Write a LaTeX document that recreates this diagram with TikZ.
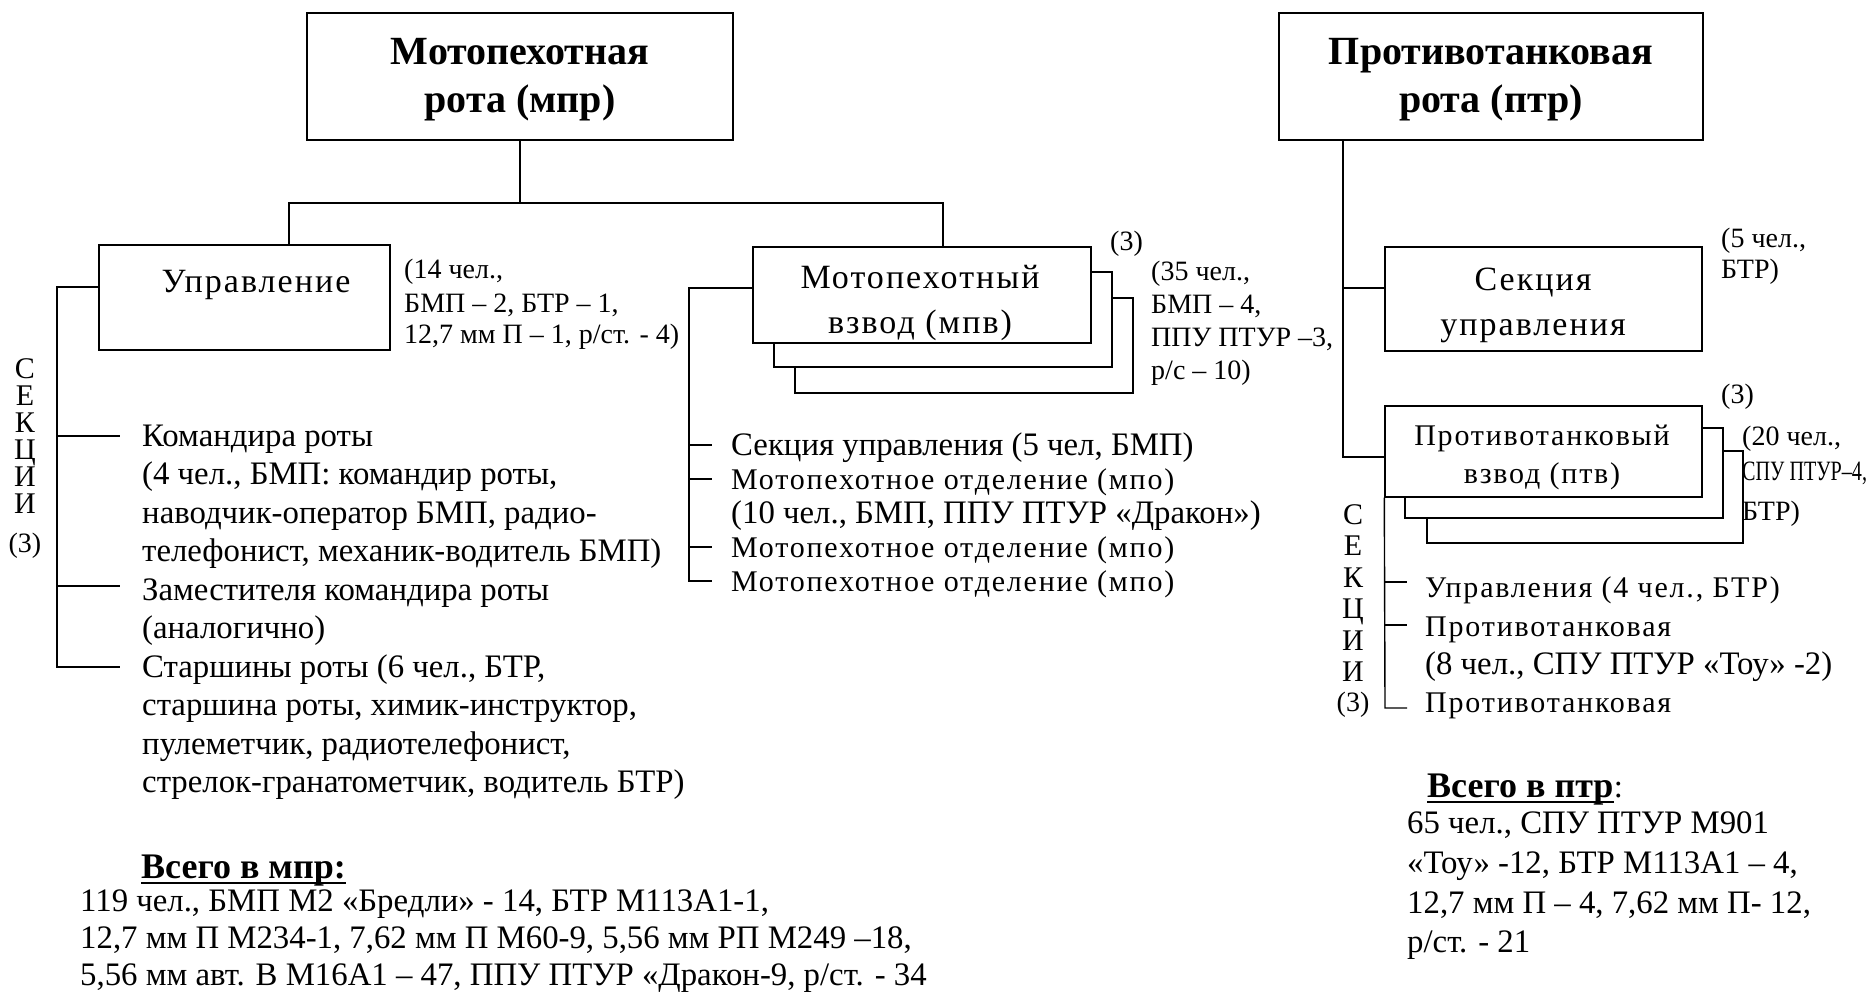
\documentclass[tikz,border=0pt]{standalone}
\usepackage{fontspec}
\usepackage{graphicx}
\setmainfont{Liberation Serif}
\newfontfamily\wserif[LetterSpace=6]{Liberation Serif}
\usetikzlibrary{calc}
\newcommand\fntTitle{\fontsize{40pt}{48pt}\selectfont\bfseries}
\newcommand\fntBoxT{\wserif\fontsize{34pt}{40pt}\selectfont}
\newcommand\fntBoxS{\wserif\fontsize{30pt}{38pt}\selectfont}
\newcommand\fntNote{\fontsize{28pt}{32pt}\selectfont}
\newcommand\fntBody{\fontsize{32.8pt}{38pt}\selectfont}
\newcommand\fntWide{\wserif\fontsize{30pt}{38pt}\selectfont}
\newcommand\fntTot{\fontsize{36pt}{40pt}\selectfont\bfseries}
\tikzset{
  box/.style={draw, line width=1.4pt, fill=white, inner sep=0pt},
  topbox/.style={draw, line width=2.4pt, fill=white, inner sep=0pt},
  conn/.style={line width=1.4pt},
  tl/.style={inner sep=0pt, anchor=base west},
  tc/.style={inner sep=0pt, anchor=base},
}
\begin{document}
\begin{tikzpicture}[x=1pt,y=-1pt]
\fill[white] (0,0) rectangle (1870,995);
\useasboundingbox (0,0) rectangle (1870,995);

% ---------- top boxes
\node[topbox, minimum width=426pt, minimum height=127pt] (mpr) at (520,76.5) {};
\node[tc, font=\fntTitle] (mprA) at (520,65) {Мотопехотная};
\node[tc, font=\fntTitle] (mprB) at (520,113) {рота (мпр)};

\node[topbox, minimum width=424pt, minimum height=127pt] (ptr) at (1491,76.5) {};
\node[tc, font=\fntTitle] (ptrA) at (1491,65) {Противотанковая};
\node[tc, font=\fntTitle] (ptrB) at (1491,113) {рота (птр)};

% ---------- Управление
\node[box, minimum width=291pt, minimum height=105pt] (upr) at (244.5,297.5) {};
\node[tc, font=\fntBoxT] (uprT) at (256,292) {Управление};
\node[tl, font=\fntNote] (uprN1) at (404,278) {(14 чел.,};
\node[tl, font=\fntNote] (uprN2) at (404,312) {БМП – 2, БТР – 1,};
\node[tl, font=\fntNote] (uprN3) at (404,343) {12,7 мм П – 1, р/ст. - 4)};

% ---------- Мотопехотный взвод (stack)
\node[box, minimum width=338pt, minimum height=95pt] (mpvC) at (964,345.5) {};
\node[box, minimum width=338pt, minimum height=95pt] (mpvB) at (943,319.5) {};
\node[box, minimum width=338pt, minimum height=96pt] (mpv) at (922,295) {};
\node[tc, font=\fntBoxT] (mpvA) at (920,288) {Мотопехотный};
\node[tc, font=\fntBoxT] (mpvT) at (920,333) {взвод (мпв)};
\node[tl, font=\fntNote] (mpvN0) at (1110,250) {(3)};
\node[tl, font=\fntNote] (mpvN1) at (1151,280) {(35 чел.,};
\node[tl, font=\fntNote] (mpvN2) at (1151,313) {БМП – 4,};
\node[tl, font=\fntNote] (mpvN3) at (1151,346) {ППУ ПТУР –3,};
\node[tl, font=\fntNote] (mpvN4) at (1151,379) {р/с – 10)};

% ---------- Секция управления
\node[box, minimum width=317pt, minimum height=104pt] (sek) at (1543.5,299) {};
\node[tc, font=\fntBoxT] (sekA) at (1533,290) {Секция};
\node[tc, font=\fntBoxT] (sekB) at (1533,335) {управления};
\node[tl, font=\fntNote] (sekN1) at (1721,247) {(5 чел.,};
\node[tl, font=\fntNote] (sekN2) at (1721,278) {БТР)};

% ---------- Противотанковый взвод (stack)
\node[box, minimum width=316pt, minimum height=92pt] (ptvC) at (1585,497) {};
\node[box, minimum width=318pt, minimum height=90pt] (ptvB) at (1564,473) {};
\node[box, minimum width=317pt, minimum height=91pt] (ptv) at (1543.5,451.5) {};
\node[tc, font=\fntBoxS] (ptvA) at (1542,445) {Противотанковый};
\node[tc, font=\fntBoxS] (ptvT) at (1542,483) {взвод (птв)};
\node[tl, font=\fntNote] (ptvN0) at (1721,403) {(3)};
\node[tl, font=\fntNote] (ptvN1) at (1742,445) {(20 чел.,};
\node[tl, font=\fntNote] (ptvN2) at (1742,480) {\scalebox{0.72}[1]{СПУ ПТУР–4,}};
\node[tl, font=\fntNote] (ptvN3) at (1742,520) {БТР)};

% ---------- connectors
\coordinate (busL) at (289,203);
\coordinate (busR) at (943,203);
\draw[conn] (mpr.south) -- (mpr.south |- busL);
\draw[conn] (busL |- upr.north) -- (busL) -- (busR) -- (busR |- mpv.north);

\coordinate (lv) at (57,287);
\coordinate (lvEnd) at (57,667);
\draw[conn] (upr.west |- lv) -- (lv) -- (lvEnd) -- ++(63,0);
\draw[conn] (57,436) -- (120,436);
\draw[conn] (57,586) -- (120,586);

\coordinate (mv) at (689,288);
\coordinate (mvEnd) at (689,581);
\draw[conn] (mpv.west |- mv) -- (mv) -- (mvEnd) -- ++(23,0);
\draw[conn] (689,445) -- (712,445);
\draw[conn] (689,479) -- (712,479);
\draw[conn] (689,547) -- (712,547);

\coordinate (rv) at (1343,288);
\coordinate (rvEnd) at (1343,457);
\draw[conn] (ptr.south -| rv) -- (rv) -- (rvEnd) -- (ptv.west |- rvEnd);
\draw[conn] (rv) -- (sek.west |- rv);

\coordinate (pv) at (1385,708);
\draw[conn] (ptv.south west) -- (pv) -- ++(22,0);
\draw[conn] (1385,582) -- (1407,582);
\draw[conn] (1385,625) -- (1407,625);

% ---------- "секции (3)" letter columns
\foreach \L [count=\i] in {С,Е,К,Ц,И,И}
  \node[tc, font=\fntWide] (lc\i) at (25,{367+27*(\i-1)+11}) {\L};
\node[tc, font=\fntNote] (lc7) at (25,552) {(3)};

\foreach \L [count=\i] in {С,Е,К,Ц,И,И}
  \node[tc, font=\fntWide] (rc\i) at (1353,{513+31.5*(\i-1)+11}) {\L};
\node[tc, font=\fntNote] (rc7) at (1353,711) {(3)};

% ---------- left list
\node[tl, font=\fntBody] (k1) at (142,446) {Командира роты};
\node[tl, font=\fntBody] (k2) at (142,484.5) {(4 чел., БМП: командир роты,};
\node[tl, font=\fntBody] (k3) at (142,523) {наводчик-оператор БМП, радио-};
\node[tl, font=\fntBody] (k4) at (142,561.5) {телефонист, механик-водитель БМП)};
\node[tl, font=\fntBody] (z1) at (142,600) {Заместителя командира роты};
\node[tl, font=\fntBody] (z2) at (142,638.5) {(аналогично)};
\node[tl, font=\fntBody] (s1) at (142,677) {Старшины роты (6 чел., БТР,};
\node[tl, font=\fntBody] (s2) at (142,715.5) {старшина роты, химик-инструктор,};
\node[tl, font=\fntBody] (s3) at (142,754) {пулеметчик, радиотелефонист,};
\node[tl, font=\fntBody] (s4) at (142,792.5) {стрелок-гранатометчик, водитель БТР)};

% ---------- middle list
\node[tl, font=\fntBody] (m1) at (731,455) {Секция управления (5 чел, БМП)};
\node[tl, font=\fntWide] (m2) at (731,489) {Мотопехотное отделение (мпо)};
\node[tl, font=\fntBody] (m3) at (731,523) {(10 чел., БМП, ППУ ПТУР «Дракон»)};
\node[tl, font=\fntWide] (m4) at (731,557) {Мотопехотное отделение (мпо)};
\node[tl, font=\fntWide] (m5) at (731,591) {Мотопехотное отделение (мпо)};

% ---------- right list
\node[tl, font=\fntWide] (r1) at (1425,597) {Управления (4 чел., БТР)};
\node[tl, font=\fntWide] (r2) at (1425,636) {Противотанковая};
\node[tl, font=\fntBody] (r3) at (1425,674) {(8 чел., СПУ ПТУР «Тоу» -2)};
\node[tl, font=\fntWide] (r4) at (1425,712) {Противотанковая};

% ---------- totals
\node[tl, font=\fntTot] (vm) at (141,878) {Всего в мпр:};
\draw[line width=2.5pt] ($(vm.base west)+(0,5)$) -- ($(vm.base east)+(0,5)$);
\node[tl, font=\fntBody] (vm1) at (80,911) {119 чел., БМП М2 «Бредли» - 14, БТР М113А1-1,};
\node[tl, font=\fntBody] (vm2) at (80,948) {12,7 мм П М234-1, 7,62 мм П М60-9, 5,56 мм РП М249 –18,};
\node[tl, font=\fntBody] (vm3) at (80,985) {5,56 мм авт. В М16А1 – 47, ППУ ПТУР «Дракон-9, р/ст. - 34};

\node[tl, font=\fntTot] (vp) at (1427,797) {Всего в птр};
\node[tl, font=\fntBody] (vpc) at (vp.base east) {:};
\draw[line width=2.5pt] ($(vp.base west)+(0,5)$) -- ($(vp.base east)+(0,5)$);
\node[tl, font=\fntBody] (vp1) at (1407,833) {65 чел., СПУ ПТУР М901};
\node[tl, font=\fntBody] (vp2) at (1407,873) {«Тоу» -12, БТР М113А1 – 4,};
\node[tl, font=\fntBody] (vp3) at (1407,913) {12,7 мм П – 4, 7,62 мм П- 12,};
\node[tl, font=\fntBody] (vp4) at (1407,952) {р/ст.  - 21};
\end{tikzpicture}
\end{document}
